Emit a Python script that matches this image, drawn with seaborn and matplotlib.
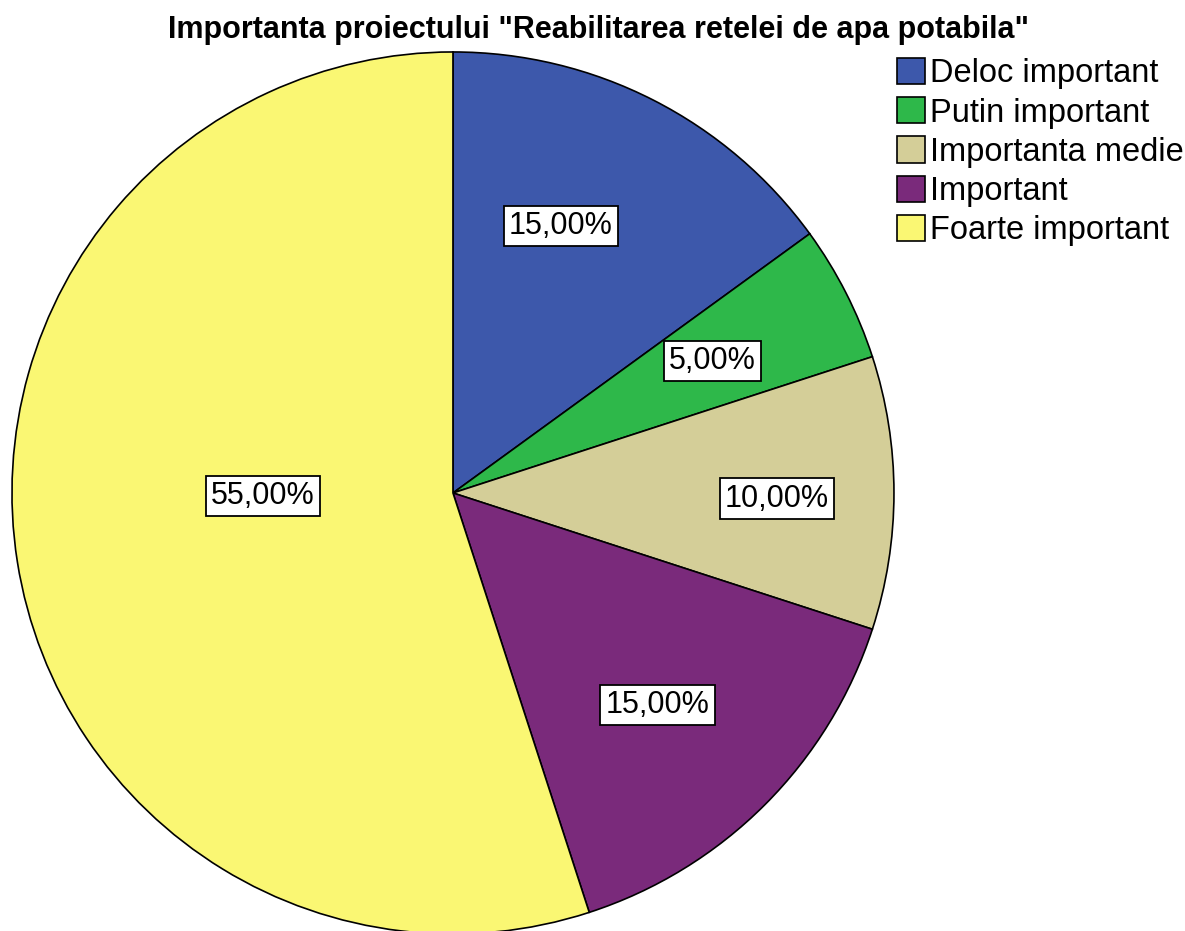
import numpy as np
import matplotlib
matplotlib.use("Agg")
import matplotlib.pyplot as plt
import seaborn as sns

# data
categories = ["Deloc important", "Putin important", "Importanta medie",
              "Important", "Foarte important"]
percentages = [15.0, 5.0, 10.0, 15.0, 55.0]
slice_colors = ["#3D58AB", "#2EB84A", "#D4CE98", "#7A2A7B", "#FAF773"]
# where each percent label sits (fraction of radius, angle tweak in degrees)
label_radius = [0.653, 0.66, 0.735, 0.668, 0.431]
label_shift = [5, 0, -1, -1, -8]

sns.set_theme(style="white")
plt.rcParams["font.family"] = ["Liberation Sans", "DejaVu Sans"]
plt.rcParams["text.color"] = "black"
palette = sns.color_palette(slice_colors)

fig = plt.figure(figsize=(11.85, 9.31), dpi=100)
ax = fig.add_axes([0.0101, -0.0032, 0.7443, 0.9474])

wedges, _ = ax.pie(percentages, colors=palette, startangle=90, counterclock=False,
                   wedgeprops=dict(edgecolor="black", linewidth=1.2))
ax.set_xlim(-1, 1)
ax.set_ylim(-1, 1)
ax.set_aspect("equal")
ax.axis("off")

# percentage labels in white boxes
for w, val, r, sh in zip(wedges, percentages, label_radius, label_shift):
    mid = np.deg2rad((w.theta1 + w.theta2) / 2 + sh)
    ax.text(r * np.cos(mid), r * np.sin(mid), f"{val:.2f}%".replace(".", ","),
            ha="center", va="center", fontsize=22, color="black",
            bbox=dict(boxstyle="square,pad=0.17", fc="white", ec="black", lw=1.3))

fig.suptitle('Importanta proiectului "Reabilitarea retelei de apa potabila"',
             x=0.505, y=1 - 30 / 931, fontsize=22, fontweight="bold", va="center",
             color="black")

fig.legend(wedges, categories, loc="upper left", bbox_to_anchor=(897 / 1185, 1 - 58 / 931),
           frameon=False, fontsize=23.5, handlelength=0.86, handleheight=0.86,
           handletextpad=0.15, labelspacing=0.24, borderpad=0, borderaxespad=0,
           labelcolor="black")

fig.savefig("out.png", dpi=100)
